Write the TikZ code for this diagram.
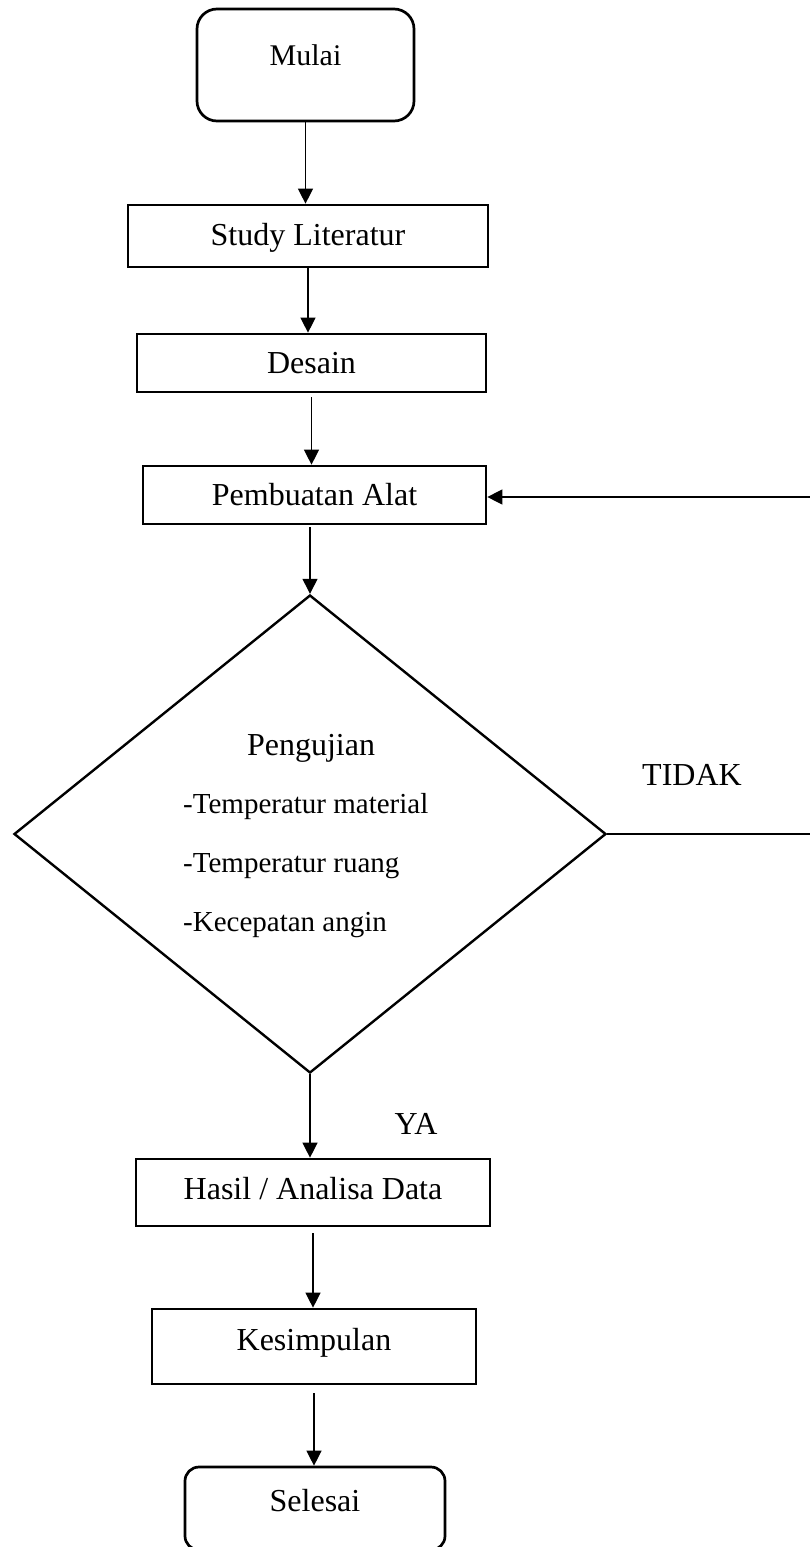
\documentclass[tikz,border=0pt]{standalone}
\usepackage{fontspec}
\setmainfont{Liberation Serif}
\usetikzlibrary{shapes.geometric,arrows.meta}
\begin{document}
\begin{tikzpicture}[x=1pt,y=-1pt,
  box/.style={draw,line width=2.7pt,rectangle,inner sep=0pt,font=\fontsize{32}{38}\selectfont,text height=21.2pt,text depth=0pt},
  arr/.style={-{Triangle[width=15pt,length=15pt]},line width=1.3pt},
  lbl/.style={font=\fontsize{32}{38}\selectfont,inner sep=0pt,anchor=base},
  item/.style={font=\fontsize{29}{35}\selectfont,inner sep=0pt,anchor=base west}]
\useasboundingbox (0,0) rectangle (809,1547);

\node[box,rounded corners=20pt,minimum width=217pt,minimum height=112pt,text depth=20pt,font=\fontsize{30}{36}\selectfont] (mulai) at (305.5,65) {Mulai};
\node[box,minimum width=360pt,minimum height=62pt,text depth=2pt] (study) at (308,236) {Study Literatur};
\node[box,minimum width=349pt,minimum height=58pt] (desain) at (311.5,363) {Desain};
\node[box,minimum width=343pt,minimum height=58pt] (buat) at (314.5,495) {Pembuatan Alat};
\node[draw,diamond,line width=2.4pt,inner sep=0pt,minimum width=592pt,minimum height=478pt] (uji) at (310,834) {};
\node[lbl] (ujit) at (311,755) {Pengujian};
\node[item] (u1) at (183,813) {-Temperatur material};
\node[item] (u2) at (183,872) {-Temperatur ruang};
\node[item] (u3) at (183,931) {-Kecepatan angin};
\node[lbl] (tidak) at (692,785) {TIDAK};
\node[box,minimum width=354pt,minimum height=67pt,text depth=7pt] (hasil) at (313,1192.5) {Hasil / Analisa Data};
\node[lbl] (ya) at (416,1134) {YA};
\node[box,minimum width=324pt,minimum height=75pt,text depth=13pt] (kes) at (314,1346.5) {Kesimpulan};
\node[box,rounded corners=14pt,minimum width=260pt,minimum height=83pt,text depth=15pt] (selesai) at (315,1508.5) {Selesai};

\draw[arr] (mulai.south) -- (mulai.south |- study.north);
\draw[arr] (study.south) -- (study.south |- desain.north);
\draw[arr,shorten <=4pt] (desain.south) -- (desain.south |- buat.north);
\draw[arr,shorten <=2pt] (buat.south -| uji.north) -- (uji.north);
\draw[arr] (uji.south) -- (uji.south |- hasil.north);
\draw[arr,shorten <=6pt] (hasil.south) -- (hasil.south |- kes.north);
\draw[arr,shorten <=8pt] (kes.south) -- (kes.south |- selesai.north);
\draw[arr] (uji.east) -- ++(206,0) |- ([yshift=-2pt]buat.east);
\end{tikzpicture}
\end{document}
